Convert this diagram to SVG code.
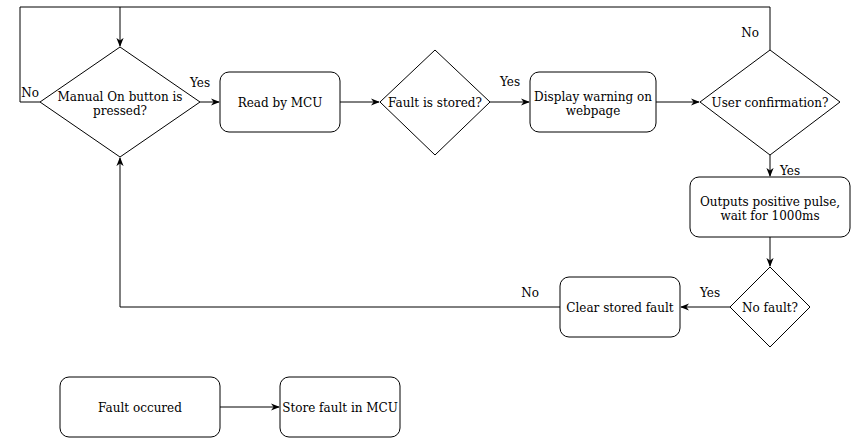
<svg xmlns="http://www.w3.org/2000/svg" width="851" height="438" viewBox="0 0 851 438">
<defs>
<marker id="arr" viewBox="0 0 10 10" refX="9" refY="5" markerWidth="9" markerHeight="9" markerUnits="userSpaceOnUse" orient="auto">
<path d="M0,1 L10,5 L0,9 L3,5 Z" fill="#000"/>
</marker>
<style>
.n{fill:#fff;stroke:#000;stroke-width:1}
.t{font-family:"DejaVu Serif",serif;font-size:12px;fill:#000;text-anchor:middle}
.l{font-family:"DejaVu Serif",serif;font-size:12px;fill:#000;text-anchor:middle}
.c{fill:none;stroke:#000;stroke-width:1}
</style>
</defs>
<rect width="851" height="438" fill="#fff"/>
<g id="connectors">
<path class="c" d="M40,102 H20 V7 H120 V46" marker-end="url(#arr)"/>
<path class="c" d="M770,50 V7 H120"/>
<path class="c" d="M200,102 H219" marker-end="url(#arr)"/>
<path class="c" d="M340,102 H379" marker-end="url(#arr)"/>
<path class="c" d="M490,102 H529" marker-end="url(#arr)"/>
<path class="c" d="M656,102 H699" marker-end="url(#arr)"/>
<path class="c" d="M770,155 V176" marker-end="url(#arr)"/>
<path class="c" d="M770,237 V266" marker-end="url(#arr)"/>
<path class="c" d="M730,307 H681" marker-end="url(#arr)"/>
<path class="c" d="M560,307 H120 V158" marker-end="url(#arr)"/>
<path class="c" d="M220,407 H279" marker-end="url(#arr)"/>
<text class="l" x="200" y="87">Yes</text>
<text class="l" x="30" y="97">No</text>
<text class="l" x="750" y="37">No</text>
<text class="l" x="510" y="86">Yes</text>
<text class="l" x="790" y="175">Yes</text>
<text class="l" x="710" y="297">Yes</text>
<text class="l" x="530" y="297">No</text>
</g>
<g id="manual">
<polygon class="n" points="120,47 200,102 120,157 40,102"/>
<text class="t" x="120" y="101">Manual On button is</text>
<text class="t" x="120" y="115">pressed?</text>
</g>
<g id="read">
<rect class="n" x="220" y="72" width="120" height="60" rx="9"/>
<text class="t" x="280" y="107">Read by MCU</text>
</g>
<g id="stored">
<polygon class="n" points="435,50 490,102 435,155 380,102"/>
<text class="t" x="435" y="107">Fault is stored?</text>
</g>
<g id="display">
<rect class="n" x="530" y="72" width="126" height="60" rx="9"/>
<text class="t" x="593" y="101">Display warning on</text>
<text class="t" x="593" y="115">webpage</text>
</g>
<g id="confirm">
<polygon class="n" points="770,50 840,102 770,155 700,102"/>
<text class="t" x="770" y="107">User confirmation?</text>
</g>
<g id="pulse">
<rect class="n" x="690" y="177" width="160" height="60" rx="9"/>
<text class="t" x="770" y="206">Outputs positive pulse,</text>
<text class="t" x="770" y="220">wait for 1000ms</text>
</g>
<g id="nofault">
<polygon class="n" points="770,267 810,307 770,347 730,307"/>
<text class="t" x="770" y="312">No fault?</text>
</g>
<g id="clear">
<rect class="n" x="560" y="277" width="120" height="60" rx="9"/>
<text class="t" x="620" y="312">Clear stored fault</text>
</g>
<g id="occured">
<rect class="n" x="60" y="377" width="160" height="60" rx="9"/>
<text class="t" x="140" y="412">Fault occured</text>
</g>
<g id="store">
<rect class="n" x="280" y="377" width="120" height="60" rx="9"/>
<text class="t" x="340" y="412">Store fault in MCU</text>
</g>
</svg>
